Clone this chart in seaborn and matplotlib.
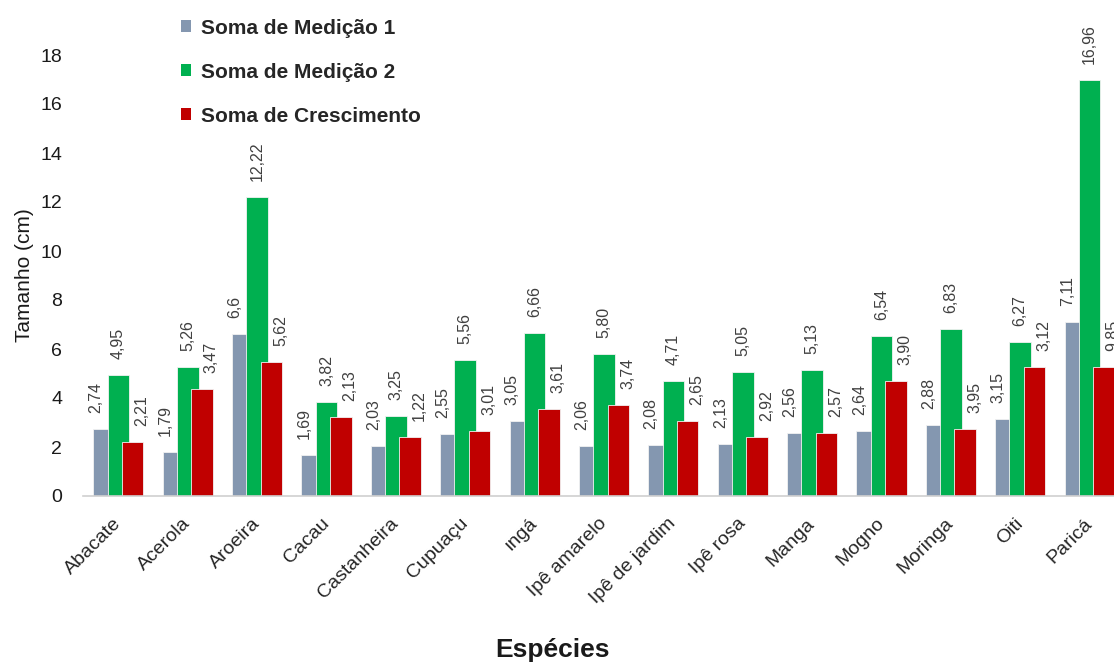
import matplotlib
matplotlib.use("Agg")
import matplotlib.pyplot as plt
import seaborn as sns
import pandas as pd
import numpy as np

species = ["Abacate", "Acerola", "Aroeira", "Cacau", "Castanheira", "Cupuaçu", "ıngá",
           "Ipê amarelo", "Ipê de jardim", "Ipê rosa", "Manga", "Mogno", "Moringa", "Oiti", "Paricá"]
medicao1 = [2.74, 1.79, 6.6, 1.69, 2.03, 2.55, 3.05, 2.06, 2.08, 2.13, 2.56, 2.64, 2.88, 3.15, 7.11]
medicao2 = [4.95, 5.26, 12.22, 3.82, 3.25, 5.56, 6.66, 5.80, 4.71, 5.05, 5.13, 6.54, 6.83, 6.27, 16.96]
# red bar heights as drawn in the picture
crescimento = [2.21, 4.37, 5.45, 3.23, 2.42, 2.65, 3.56, 3.71, 3.07, 2.42, 2.58, 4.68, 2.73, 5.27, 5.27]
# data labels as printed
label_m1 = ["2,74", "1,79", "6,6", "1,69", "2,03", "2,55", "3,05", "2,06", "2,08", "2,13", "2,56", "2,64", "2,88", "3,15", "7,11"]
label_m2 = ["4,95", "5,26", "12,22", "3,82", "3,25", "5,56", "6,66", "5,80", "4,71", "5,05", "5,13", "6,54", "6,83", "6,27", "16,96"]
label_cr = ["2,21", "3,47", "5,62", "2,13", "1,22", "3,01", "3,61", "3,74", "2,65", "2,92", "2,57", "3,90", "3,95", "3,12", "9,85"]
series = ["Soma de Medição 1", "Soma de Medição 2", "Soma de Crescimento"]
colors = ["#8497B0", "#00B050", "#C00000"]
yticks = [0, 2, 4, 6, 8, 10, 12, 14, 16, 18]

sns.set_theme(style="white")
plt.rcParams["font.family"] = ["Liberation Sans", "DejaVu Sans"]

df = pd.DataFrame({
    "Espécie": species * 3,
    "Série": [series[0]] * len(species) + [series[1]] * len(species) + [series[2]] * len(species),
    "Valor": medicao1 + medicao2 + crescimento,
})

fig = plt.figure(figsize=(11.14, 6.63), dpi=100)
ax = fig.add_axes([83 / 1114, (663 - 496) / 663, (1125 - 83) / 1114, (496 - 55) / 663])

sns.barplot(data=df, x="Espécie", y="Valor", hue="Série", palette=colors,
            hue_order=series, order=species, dodge=True, width=0.62, ax=ax,
            errorbar=None, saturation=1, edgecolor="#f2f2f2", linewidth=0.6)

# widen bars so that they overlap like the Excel chart
new_w = 0.31
for p in ax.patches:
    if hasattr(p, "get_width") and p.get_height() > 0:
        cx = p.get_x() + p.get_width() / 2
        p.set_width(new_w)
        p.set_x(cx - new_w / 2)

ax.set_xlim(-0.51, len(species) - 0.49)
ax.set_ylim(0, 18)
ax.set_yticks(yticks)
ax.set_yticklabels([str(t) for t in yticks], fontsize=14, color="#1a1a1a")
ax.tick_params(axis="y", length=0, pad=15)
ax.tick_params(axis="x", length=0, pad=18)
ax.set_xticks(range(len(species)))
ax.set_xticklabels(species, rotation=45, ha="right", va="center", rotation_mode="anchor",
                   fontsize=14, color="#262626")

for s in ["top", "right", "left"]:
    ax.spines[s].set_visible(False)
ax.spines["bottom"].set_color("#d0d0d0")
ax.spines["bottom"].set_linewidth(1.2)

ax.set_xlabel("Espécies", fontsize=19, fontweight="bold", color="#1a1a1a")
ax.set_ylabel("Tamanho (cm)", fontsize=15, color="#1a1a1a")
ax.yaxis.set_label_coords(-0.047, 0.5)
ax.xaxis.set_label_coords(0.451, -0.322)

# data labels
from matplotlib.transforms import offset_copy
tr = offset_copy(ax.transData, fig=fig, x=0, y=16, units="dots")
offsets = [-0.32, 0.0, 0.34]
heights = [medicao1, medicao2, crescimento]
labels = [label_m1, label_m2, label_cr]
for k in range(3):
    for i in range(len(species)):
        ax.text(i + offsets[k], heights[k][i], labels[k][i], transform=tr,
                rotation=90, ha="center", va="bottom", fontsize=11.5,
                color="#404040", clip_on=False)

ax.legend_.remove()
from matplotlib.patches import Patch
handles = [Patch(facecolor=c, edgecolor="none") for c in colors]
fig.legend(handles, series, loc="upper left", bbox_to_anchor=(162 / 1114, 1 - 0 / 663),
           frameon=False, prop={"weight": "bold", "size": 15}, handlelength=0.5,
           handleheight=0.5, handletextpad=0.45, labelspacing=1.2)

fig.savefig("out.png", dpi=100)
